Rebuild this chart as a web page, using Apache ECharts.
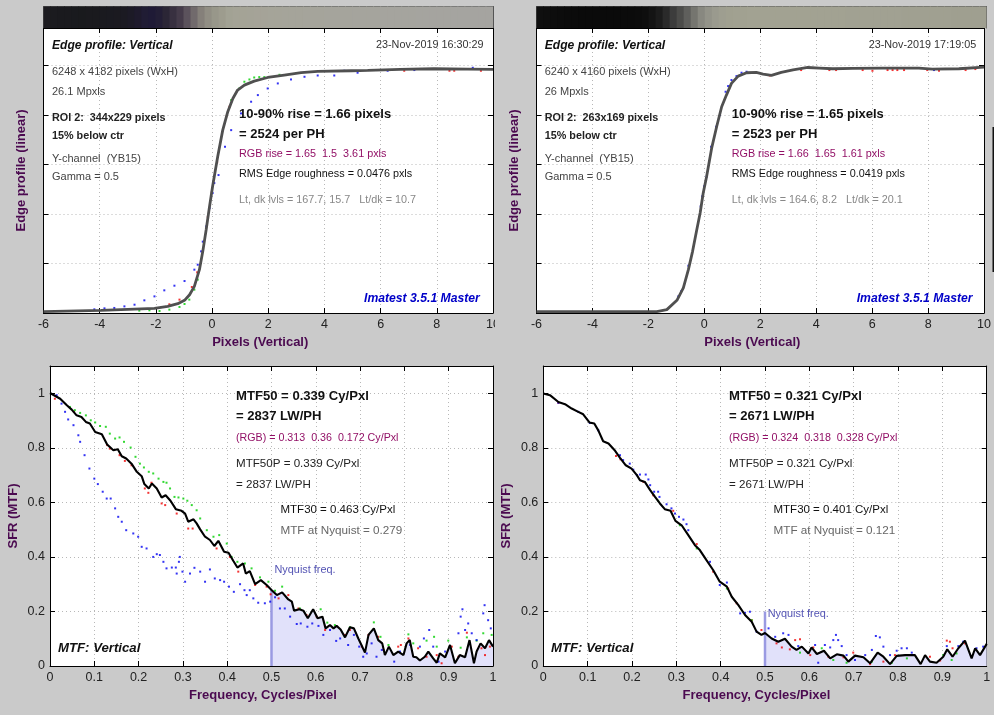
<!DOCTYPE html>
<html>
<head>
<meta charset="utf-8">
<title>Edge profile and MTF</title>
<script src="https://cdn.jsdelivr.net/npm/echarts@6/dist/echarts.min.js"></script>
<style>
html, body { margin: 0; padding: 0; background: #cacaca; }
#chart { width: 994px; height: 715px; }
</style>
</head>
<body>
<div id="chart"></div>
<script>
// edge profile, left camera: [pixels, level]
var edgeLeftY = [[-6,1.3],[-3.95,2.7],[-2.05,4.7],[-1.58,6.7],[-1.22,9.4],[-0.98,12.8],[-0.8,18.5],[-0.63,26.9],[-0.45,43.8],[-0.33,62.3],[-0.21,84.2],[-0.09,107.7],[0.02,128],[0.2,157.9],[0.38,184.8],[0.56,203.4],[0.74,216.8],[0.91,225.3],[1.15,230.3],[1.5,234.3],[1.98,238],[2.57,240.4],[3.17,242.8],[3.76,244.1],[4.95,244.8],[5.54,245.1],[6.7,246.1],[7.9,246.8],[9.1,246.5],[10,246.1]];
var edgeLeftB = [[-4.19,3.7],[-3.83,4.7],[-3.48,5.1],[-3.12,6.7],[-2.76,8.4],[-2.41,12.8],[-2.05,16.8],[-1.7,22.9],[-1.34,27.6],[-0.98,32.3],[-0.63,43.8],[-0.51,48.8],[-0.39,62.3],[-0.33,72.1],[-0.21,87.5],[-0.09,106],[0.02,121.2],[0.08,131.3],[0.23,139.4],[0.46,168],[0.68,184.8],[1.03,201.7],[1.39,213.5],[1.63,220.2],[1.98,226.9],[2.34,232],[2.81,236],[3.29,238.7],[3.76,240],[4.35,240],[4.71,244.8],[5.18,242.8],[6.25,244.8],[7.2,245.5],[9.28,247.8]];
var edgeLeftG = [[-2.59,2.4],[-2.23,2.7],[-1.87,2],[-1.52,3.4],[-1.16,6.1],[-0.98,9.1],[-0.81,13.5],[-0.63,23.6],[-0.51,33.7],[0.68,215.2],[0.97,226.9],[1.15,233.7],[1.33,236],[1.5,238],[1.68,238.4],[1.86,238.4],[2.04,238.4],[2.4,240.7]];
var edgeLeftR = [[-1.52,8.8],[-1.16,13.5],[-0.72,26.3],[-0.53,41.1],[-0.15,97],[-0.01,121.9],[0.18,152.2],[0.5,198.3],[0.62,208.4],[6.84,244.8],[8.45,244.8],[8.62,244.8],[9.57,244.8]];

// edge profile, right camera
var edgeRightY = [[-6,1.3],[-3.36,1.3],[-1.7,1.3],[-1.34,3.4],[-0.98,12.8],[-0.75,25.3],[-0.57,43.8],[-0.42,62.3],[-0.27,84.2],[-0.15,101],[-0.04,121.2],[0.08,137.7],[0.26,166.3],[0.44,188.2],[0.62,208.4],[0.79,220.2],[0.97,232],[1.21,239.4],[1.51,242.8],[1.86,243.1],[2.1,241.4],[2.4,240.1],[2.75,243.1],[3.17,245.8],[3.7,248.1],[4.12,247.5],[4.59,246.8],[5.3,247.1],[6.37,247.5],[7.67,247.5],[8.15,246.5],[9.1,246.8],[10,248.5]];
var edgeRightB = [[-0.93,16.8],[-0.83,21.9],[-0.57,47.8],[-0.13,107.7],[-0.08,117.8],[-0.01,128],[0.08,137.7],[0.24,168],[0.42,188.2],[0.56,200],[0.76,223.6],[0.85,229.3],[0.97,235.4],[1.15,239.4],[1.33,242.8],[1.51,243.8],[8.21,245.5]];
var edgeRightR = [[2.34,240],[3.46,245.5],[4.47,245.5],[4.71,245.5],[5.66,245.5],[6.01,244.8],[6.55,245.5],[6.73,245.5],[6.9,245.5],[7.14,245.5],[7.97,245.5],[8.39,244.8],[9.34,245.5],[9.69,246.5]];

// MTF, left camera: [cycles/pixel, SFR]
var mtfLeftY = [[0,1.001],[0.023,0.98],[0.038,0.956],[0.049,0.94],[0.06,0.919],[0.071,0.913],[0.081,0.895],[0.09,0.889],[0.102,0.858],[0.117,0.85],[0.129,0.812],[0.143,0.791],[0.153,0.795],[0.162,0.769],[0.172,0.761],[0.184,0.742],[0.196,0.712],[0.207,0.696],[0.213,0.667],[0.223,0.651],[0.23,0.669],[0.241,0.651],[0.252,0.618],[0.261,0.626],[0.272,0.606],[0.284,0.575],[0.297,0.569],[0.305,0.559],[0.312,0.529],[0.324,0.538],[0.331,0.523],[0.339,0.501],[0.35,0.474],[0.361,0.462],[0.371,0.44],[0.38,0.459],[0.393,0.419],[0.403,0.415],[0.414,0.385],[0.423,0.361],[0.436,0.376],[0.442,0.339],[0.451,0.348],[0.463,0.3],[0.476,0.315],[0.489,0.297],[0.5,0.279],[0.512,0.26],[0.524,0.27],[0.538,0.244],[0.546,0.236],[0.551,0.203],[0.563,0.208],[0.572,0.203],[0.582,0.175],[0.594,0.208],[0.604,0.175],[0.615,0.181],[0.622,0.138],[0.632,0.15],[0.64,0.138],[0.647,0.147],[0.656,0.134],[0.666,0.105],[0.677,0.142],[0.686,0.138],[0.696,0.101],[0.703,0.077],[0.711,0.049],[0.719,0.114],[0.731,0.138],[0.741,0.095],[0.75,0.083],[0.756,0.04],[0.765,0.071],[0.775,0.04],[0.786,0.053],[0.798,0.04],[0.805,0.083],[0.812,0.095],[0.82,0.034],[0.827,0.032],[0.835,0.02],[0.846,0.034],[0.854,0.053],[0.865,0.028],[0.873,0.012],[0.88,0.046],[0.892,0.032],[0.903,0.077],[0.914,0.01],[0.925,0.04],[0.937,0.032],[0.947,0.095],[0.957,0.01],[0.963,0.053],[0.972,0.083],[0.982,0.065],[0.991,0.095],[1,0.071]];
var mtfLeftB = [[0.015,0.993],[0.026,0.962],[0.034,0.932],[0.041,0.904],[0.053,0.883],[0.064,0.846],[0.068,0.822],[0.078,0.773],[0.089,0.724],[0.1,0.687],[0.108,0.667],[0.119,0.639],[0.128,0.614],[0.137,0.614],[0.147,0.578],[0.154,0.547],[0.162,0.529],[0.172,0.498],[0.188,0.486],[0.199,0.474],[0.207,0.437],[0.218,0.431],[0.233,0.4],[0.241,0.41],[0.248,0.407],[0.256,0.382],[0.263,0.358],[0.275,0.361],[0.284,0.361],[0.286,0.339],[0.291,0.382],[0.293,0.4],[0.299,0.346],[0.305,0.309],[0.316,0.339],[0.326,0.36],[0.339,0.346],[0.35,0.309],[0.361,0.354],[0.372,0.321],[0.384,0.315],[0.393,0.309],[0.404,0.291],[0.415,0.272],[0.429,0.3],[0.439,0.278],[0.451,0.278],[0.444,0.26],[0.459,0.248],[0.47,0.232],[0.485,0.23],[0.497,0.236],[0.508,0.252],[0.519,0.211],[0.53,0.211],[0.542,0.181],[0.557,0.154],[0.566,0.156],[0.581,0.144],[0.592,0.156],[0.606,0.147],[0.617,0.114],[0.632,0.132],[0.646,0.092],[0.655,0.101],[0.673,0.077],[0.686,0.114],[0.698,0.071],[0.707,0.034],[0.715,0.046],[0.726,0.083],[0.737,0.034],[0.749,0.059],[0.777,0.016],[0.79,0.053],[0.813,0.077],[0.835,0.071],[0.844,0.101],[0.856,0.132],[0.865,0.071],[0.877,0.016],[0.892,0.053],[0.903,0.071],[0.922,0.12],[0.927,0.181],[0.931,0.208],[0.937,0.132],[0.944,0.156],[0.952,0.12],[0.963,0.095],[0.978,0.193],[0.981,0.223],[0.989,0.168],[0.995,0.138]];
var mtfLeftG = [[0.045,0.95],[0.056,0.938],[0.068,0.928],[0.081,0.919],[0.092,0.901],[0.102,0.893],[0.113,0.88],[0.126,0.877],[0.135,0.852],[0.147,0.834],[0.157,0.838],[0.167,0.822],[0.182,0.801],[0.193,0.767],[0.203,0.742],[0.212,0.728],[0.223,0.712],[0.233,0.706],[0.245,0.687],[0.256,0.675],[0.263,0.672],[0.271,0.651],[0.281,0.62],[0.29,0.618],[0.301,0.614],[0.31,0.606],[0.32,0.59],[0.331,0.571],[0.339,0.541],[0.354,0.498],[0.369,0.474],[0.382,0.48],[0.399,0.449],[0.41,0.4],[0.423,0.382],[0.44,0.376],[0.455,0.358],[0.474,0.325],[0.493,0.309],[0.508,0.276],[0.524,0.291],[0.564,0.211],[0.611,0.208],[0.626,0.159],[0.643,0.15],[0.677,0.142],[0.731,0.16],[0.746,0.107],[0.764,0.077],[0.809,0.116],[0.82,0.083],[0.85,0.093],[0.867,0.107],[0.873,0.071],[0.899,0.093],[0.927,0.067],[0.941,0.105],[0.963,0.093],[0.978,0.12],[0.997,0.114]];
var mtfLeftR = [[0.011,0.98],[0.054,0.932],[0.129,0.81],[0.135,0.797],[0.157,0.773],[0.169,0.752],[0.184,0.736],[0.214,0.651],[0.222,0.635],[0.229,0.672],[0.252,0.596],[0.26,0.59],[0.286,0.559],[0.312,0.504],[0.322,0.504],[0.376,0.431],[0.406,0.4],[0.425,0.346],[0.463,0.297],[0.489,0.291],[0.498,0.263],[0.516,0.248],[0.538,0.26],[0.561,0.211],[0.579,0.187],[0.602,0.181],[0.621,0.132],[0.666,0.114],[0.677,0.132],[0.704,0.071],[0.719,0.114],[0.741,0.107],[0.753,0.059],[0.786,0.071],[0.792,0.077],[0.809,0.101],[0.831,0.065],[0.85,0.034],[0.873,0.04],[0.884,0.01],[0.907,0.071],[0.922,0.034],[0.941,0.122],[0.974,0.065],[0.982,0.04],[0.993,0.071]];
var nyquistLeft = [[0.5,0],[0.5,0.279]];

// MTF, right camera
var mtfRightY = [[0,0.999],[0.015,0.993],[0.034,0.968],[0.049,0.96],[0.064,0.944],[0.079,0.932],[0.09,0.923],[0.104,0.893],[0.115,0.889],[0.124,0.864],[0.135,0.824],[0.147,0.816],[0.162,0.789],[0.173,0.763],[0.186,0.736],[0.199,0.724],[0.211,0.7],[0.218,0.681],[0.229,0.675],[0.241,0.645],[0.252,0.62],[0.263,0.596],[0.274,0.575],[0.287,0.569],[0.298,0.532],[0.312,0.516],[0.327,0.48],[0.342,0.443],[0.353,0.425],[0.368,0.388],[0.383,0.352],[0.398,0.309],[0.414,0.291],[0.425,0.254],[0.44,0.223],[0.455,0.187],[0.47,0.162],[0.481,0.126],[0.492,0.114],[0.5,0.121],[0.515,0.101],[0.53,0.089],[0.545,0.1],[0.56,0.071],[0.571,0.059],[0.583,0.071],[0.598,0.046],[0.605,0.068],[0.617,0.044],[0.633,0.056],[0.647,0.028],[0.662,0.043],[0.677,0.038],[0.688,0.016],[0.703,0.038],[0.722,0.032],[0.737,0.01],[0.754,0.049],[0.767,0.034],[0.782,0.007],[0.797,0.037],[0.816,0.04],[0.838,0.04],[0.851,0.007],[0.861,0.04],[0.872,0.016],[0.887,0.012],[0.902,0.034],[0.911,0.061],[0.923,0.034],[0.936,0.065],[0.951,0.093],[0.966,0.028],[0.974,0.065],[0.985,0.04],[1,0.081]];
var mtfRightB = [[0.034,0.965],[0.079,0.932],[0.105,0.891],[0.124,0.864],[0.173,0.773],[0.18,0.755],[0.195,0.742],[0.203,0.72],[0.211,0.7],[0.218,0.702],[0.231,0.702],[0.237,0.684],[0.241,0.663],[0.25,0.639],[0.259,0.639],[0.262,0.62],[0.278,0.593],[0.289,0.578],[0.297,0.559],[0.306,0.547],[0.316,0.537],[0.323,0.52],[0.327,0.498],[0.376,0.382],[0.398,0.297],[0.414,0.306],[0.444,0.193],[0.455,0.195],[0.466,0.199],[0.481,0.126],[0.508,0.138],[0.523,0.107],[0.541,0.12],[0.553,0.114],[0.575,0.073],[0.613,0.077],[0.62,0.012],[0.635,0.077],[0.647,0.068],[0.654,0.095],[0.66,0.114],[0.665,0.095],[0.673,0.073],[0.684,0.04],[0.703,0.022],[0.726,0.04],[0.741,0.059],[0.75,0.11],[0.759,0.105],[0.767,0.071],[0.782,0.04],[0.797,0.056],[0.808,0.065],[0.82,0.065],[0.831,0.049],[0.91,0.073],[0.936,0.073],[0.947,0.089],[0.977,0.065],[0.992,0.071]];
var mtfRightR = [[0.034,0.965],[0.164,0.77],[0.174,0.758],[0.226,0.675],[0.248,0.626],[0.293,0.569],[0.346,0.447],[0.383,0.346],[0.417,0.284],[0.436,0.23],[0.47,0.168],[0.492,0.132],[0.526,0.083],[0.538,0.068],[0.556,0.061],[0.568,0.095],[0.579,0.098],[0.602,0.04],[0.609,0.068],[0.643,0.034],[0.677,0.032],[0.699,0.049],[0.737,0.007],[0.767,0.016],[0.793,0.04],[0.872,0.034],[0.895,0.02],[0.91,0.093],[0.917,0.089],[0.923,0.065],[0.951,0.083]];
var mtfRightG = [[0.259,0.606],[0.308,0.516],[0.346,0.431],[0.414,0.284],[0.47,0.168],[0.579,0.049],[0.628,0.065],[0.654,0.022],[0.684,0.012],[0.741,0.016],[0.786,0.012],[0.82,0.028],[0.902,0.04],[0.921,0.022],[0.932,0.046]];
var nyquistRight = [[0.5,0],[0.5,0.2]];

// gray patches along the top of the edge plots
var stripLeft = ['#1c1b20','#1b1b1f','#1a1a1e','#1a1a1e','#191a1e','#191a1d','#1a1a1e','#1a1a1e','#1a1a1f','#1a1a20','#1b1a20','#1b1a22','#1c1a26','#1e1a2c','#201c34','#1f1a36','#231e36','#2b2636','#383040','#453b4a','#5b525c','#716a6c','#85807a','#918e84','#98978a','#9d9c8e','#a2a294','#a4a396','#a4a396','#a4a397','#a5a398','#a5a398','#a5a499','#a5a499','#a5a49a','#a5a49a','#a5a49a','#a5a49b','#a5a49b','#a5a49b','#a5a49c','#a5a49c','#a5a49c','#a5a49c','#a5a49d','#a5a49d','#a5a49d','#a5a49d','#a5a49e','#a5a49e','#a5a49e','#a5a49e','#a5a49e','#a5a49f','#a5a49f','#a5a49f','#a5a49f','#a5a49f','#a5a4a0','#a5a4a0','#a5a4a0','#a5a4a0','#a5a4a0','#a5a4a0'];
var stripRight = ['#0f0f0f','#0e0e0e','#0d0d0d','#0c0c0c','#0b0b0b','#0b0b0b','#0a0a0a','#0a0a0a','#0a0a0a','#0a0a0a','#0a0a0a','#0a0a0a','#0b0b0b','#0b0b0b','#0c0c0c','#0e0e0e','#141414','#1c1c1c','#2a2a2a','#3c3c3c','#4c4c4a','#5f5f5c','#75756f','#888880','#939389','#9a9a8e','#9e9e90','#a0a090','#a1a191','#a1a191','#a2a292','#a2a292','#a2a292','#a2a292','#a2a292','#a2a292','#a2a292','#a2a292','#a2a292','#a2a292','#a2a292','#a2a292','#a2a292','#a2a292','#a1a192','#a1a192','#a1a192','#a1a192','#a1a192','#a1a192','#a1a192','#a1a192','#a0a091','#a0a091','#a0a091','#a0a091','#a0a091','#a0a091','#a0a091','#9f9f90','#9f9f90','#9f9f90','#9f9f90','#9f9f90'];

var edgeXTicks = { min: -6, max: 10, interval: 2 };
var edgeYTicks = { min: 0, max: 288, interval: 50 };
var mtfXTicks = { min: 0, max: 1, interval: 0.1 };
var mtfYTicks = { min: 0, max: 1.1, interval: 0.2 };

var font = '"Liberation Sans", Arial, sans-serif';
var purple = '#4b0a50';
var magenta = '#921066';

var chart = echarts.init(document.getElementById('chart'));

var grids = [], xAxes = [], yAxes = [], series = [], texts = [];

function dots(x, y, data, color) {
    series.push({ type: 'scatter', xAxisIndex: x, yAxisIndex: y, data: data, symbol: 'rect', symbolSize: 2, silent: true, z: 2, itemStyle: { color: color } });
}

// one plot with its frame: main x and y axes plus tickmark-only axes on top and right
function addPlot(box, xt, yt, xName, yName, yGap, xShift, showY) {
    var g = grids.length;
    grids.push({ left: box[0], top: box[1], width: box[2], height: box[3], show: true, backgroundColor: '#fff', borderWidth: 0 });
    var line = { show: true, onZero: false, lineStyle: { color: '#000', width: 1 } };
    var tick = { show: true, inside: true, length: 5, lineStyle: { color: '#000', width: 1 } };
    var grid = { show: true, lineStyle: { color: '#b8b8b8', width: 1, type: [1, 3] } };
    var x = xAxes.length;
    xAxes.push({
        type: 'value', gridIndex: g, min: xt.min, max: xt.max, interval: xt.interval, position: 'bottom',
        axisLine: line, axisTick: tick, splitLine: grid,
        axisLabel: { fontFamily: font, fontSize: 12.5, color: '#222', margin: 5, hideOverlap: false },
        name: xName, nameLocation: 'center', nameGap: 23,
        nameTextStyle: { fontFamily: font, fontSize: 13, fontWeight: 'bold', color: purple, padding: [0, xShift, 0, 0] }
    });
    xAxes.push({
        type: 'value', gridIndex: g, min: xt.min, max: xt.max, interval: xt.interval, position: 'top',
        axisLine: line, axisTick: tick, splitLine: { show: false }, axisLabel: { show: false }
    });
    var y = yAxes.length;
    yAxes.push({
        type: 'value', gridIndex: g, min: yt.min, max: yt.max, interval: yt.interval, position: 'left',
        axisLine: line, axisTick: tick, splitLine: grid,
        axisLabel: { show: showY, showMaxLabel: false, fontFamily: font, fontSize: 12.5, color: '#222', margin: 5 },
        name: yName, nameLocation: 'center', nameGap: yGap,
        nameTextStyle: { fontFamily: font, fontSize: 13, fontWeight: 'bold', color: purple }
    });
    yAxes.push({
        type: 'value', gridIndex: g, min: yt.min, max: yt.max, interval: yt.interval, position: 'right',
        axisLine: line, axisTick: tick, splitLine: { show: false }, axisLabel: { show: false }
    });
    return { x: x, y: y };
}

function addStrip(box, colors) {
    var g = grids.length;
    grids.push({ left: box[0], top: box[1], width: box[2], height: box[3] });
    var x = xAxes.length, y = yAxes.length;
    var border = { show: true, onZero: false, lineStyle: { color: '#555', width: 1 } };
    xAxes.push({ type: 'category', gridIndex: g, position: 'top', data: colors.map(function (c, i) { return i; }), axisLine: border, axisTick: { show: false }, axisLabel: { show: false }, splitLine: { show: false } });
    yAxes.push({ type: 'value', gridIndex: g, min: 0, max: 1, position: 'left', axisLine: border, axisTick: { show: false }, axisLabel: { show: false }, splitLine: { show: false } });
    yAxes.push({ type: 'value', gridIndex: g, min: 0, max: 1, position: 'right', axisLine: border, axisTick: { show: false }, axisLabel: { show: false }, splitLine: { show: false } });
    series.push({
        type: 'bar', xAxisIndex: x, yAxisIndex: y, barWidth: 8, silent: true, animation: false, clip: true,
        data: colors.map(function (c) { return { value: 1, itemStyle: { color: c } }; })
    });
}

function label(x, y, str, color, size, weight, style) {
    texts.push({
        type: 'text', x: x, y: y, z: 100, silent: true,
        style: { text: str, fill: color, font: (style || 'normal') + ' ' + (weight || 'normal') + ' ' + size + 'px ' + font, textVerticalAlign: 'middle' }
    });
}

function edgePanel(box, stripBox, colors, main, blue, green, red, dx, info) {
    var a = addPlot(box, edgeXTicks, edgeYTicks, 'Pixels (Vertical)', 'Edge profile (linear)', 16, 16, false);
    addStrip(stripBox, colors);
    dots(a.x, a.y, red, '#f00000');
    dots(a.x, a.y, green, '#00d000');
    dots(a.x, a.y, blue, '#0000f0');
    series.push({ type: 'line', xAxisIndex: a.x, yAxisIndex: a.y, data: main, showSymbol: false, silent: true, z: 3, lineStyle: { color: '#505050', width: 2.8 } });
    label(52 + dx, 45.5, 'Edge profile: Vertical', '#111', 12.1, 'bold', 'italic');
    label(376 + dx, 45, info.date, '#333', 10.8);
    label(52 + dx, 72, info.size, '#444', 11);
    label(52 + dx, 92, info.mpxl, '#444', 11);
    label(52 + dx, 118, info.roi, '#222', 10.8, 'bold');
    label(52 + dx, 136, '15% below ctr', '#222', 10.8, 'bold');
    label(52 + dx, 159, 'Y-channel  (YB15)', '#444', 11);
    label(52 + dx, 177, 'Gamma = 0.5', '#444', 11);
    label(239 + dx, 114.5, info.rise, '#111', 13, 'bold');
    label(239 + dx, 134.5, info.per, '#111', 13, 'bold');
    label(239 + dx, 154, info.rgb, magenta, 10.8);
    label(239 + dx, 174, info.rms, '#111', 10.8);
    label(239 + dx, 200, info.lt, '#888', 10.8);
    label(364 + dx, 298.5, 'Imatest 3.5.1 Master', '#0000c8', 12.2, 'bold', 'italic');
}

function mtfPanel(box, main, blue, green, red, nyquist, dx, info) {
    var a = addPlot(box, mtfXTicks, mtfYTicks, 'Frequency, Cycles/Pixel', 'SFR (MTF)', 30, 17, true);
    series.push({
        type: 'line', xAxisIndex: a.x, yAxisIndex: a.y, silent: true, showSymbol: false, z: 1,
        data: main.filter(function (p) { return p[0] >= 0.5; }),
        lineStyle: { width: 0 }, areaStyle: { color: '#e1e1fa', opacity: 1 }
    });
    series.push({ type: 'line', xAxisIndex: a.x, yAxisIndex: a.y, data: nyquist, showSymbol: false, silent: true, z: 1, lineStyle: { color: '#9a9ae2', width: 2.5 } });
    dots(a.x, a.y, red, '#f00000');
    dots(a.x, a.y, green, '#00d000');
    dots(a.x, a.y, blue, '#0000f0');
    series.push({ type: 'line', xAxisIndex: a.x, yAxisIndex: a.y, data: main, showSymbol: false, silent: true, z: 3, lineStyle: { color: '#000', width: 2.1 } });
    label(236 + dx, 396, info.mtf50, '#111', 13.1, 'bold');
    label(236 + dx, 416.7, info.lw, '#111', 13.1, 'bold');
    label(236 + dx, 438, info.rgb, magenta, 10.7);
    label(236 + dx, 463.5, info.mtf50p, '#222', 11.6);
    label(236 + dx, 485, info.lwp, '#222', 11.6);
    label(280.5 + dx, 510, info.mtf30, '#111', 11.5);
    label(280.5 + dx, 530.7, info.nyq, '#666', 11.7);
    label(58 + dx, 648, 'MTF: Vertical', '#111', 13.2, 'bold', 'italic');
    label(info.nqX, info.nqY, 'Nyquist freq.', '#5454b4', 10.9);
}

edgePanel([43.5, 28, 449.5, 285], [43.5, 6.5, 449.5, 21.5], stripLeft, edgeLeftY, edgeLeftB, edgeLeftG, edgeLeftR, 0, {
    date: '23-Nov-2019 16:30:29', size: '6248 x 4182 pixels (WxH)', mpxl: '26.1 Mpxls', roi: 'ROI 2:  344x229 pixels',
    rise: '10-90% rise = 1.66 pixels', per: '= 2524 per PH', rgb: 'RGB rise = 1.65  1.5  3.61 pxls',
    rms: 'RMS Edge roughness = 0.0476 pxls', lt: 'Lt, dk lvls = 167.7, 15.7   Lt/dk = 10.7'
});
edgePanel([536.5, 28, 450, 285], [536.5, 6.5, 450, 21.5], stripRight, edgeRightY, edgeRightB, [], edgeRightR, 492.7, {
    date: '23-Nov-2019 17:19:05', size: '6240 x 4160 pixels (WxH)', mpxl: '26 Mpxls', roi: 'ROI 2:  263x169 pixels',
    rise: '10-90% rise = 1.65 pixels', per: '= 2523 per PH', rgb: 'RGB rise = 1.66  1.65  1.61 pxls',
    rms: 'RMS Edge roughness = 0.0419 pxls', lt: 'Lt, dk lvls = 164.6, 8.2   Lt/dk = 20.1'
});
mtfPanel([50, 366, 443, 300], mtfLeftY, mtfLeftB, mtfLeftG, mtfLeftR, nyquistLeft, 0, {
    mtf50: 'MTF50 = 0.339 Cy/Pxl', lw: '= 2837 LW/PH', rgb: '(RGB) = 0.313  0.36  0.172 Cy/Pxl',
    mtf50p: 'MTF50P = 0.339 Cy/Pxl', lwp: '= 2837 LW/PH', mtf30: 'MTF30 = 0.463 Cy/Pxl', nyq: 'MTF at Nyquist = 0.279',
    nqX: 274.5, nqY: 570
});
mtfPanel([543.3, 366, 443.4, 300], mtfRightY, mtfRightB, mtfRightG, mtfRightR, nyquistRight, 493, {
    mtf50: 'MTF50 = 0.321 Cy/Pxl', lw: '= 2671 LW/PH', rgb: '(RGB) = 0.324  0.318  0.328 Cy/Pxl',
    mtf50p: 'MTF50P = 0.321 Cy/Pxl', lwp: '= 2671 LW/PH', mtf30: 'MTF30 = 0.401 Cy/Pxl', nyq: 'MTF at Nyquist = 0.121',
    nqX: 767.7, nqY: 614
});

// leftovers of the screenshot: clipped "10" on the left panel and the bar on the right edge
texts.push({ type: 'rect', z: 100, silent: true, shape: { x: 495, y: 316, width: 6, height: 18 }, style: { fill: '#cacaca' } });
texts.push({ type: 'rect', z: 100, silent: true, shape: { x: 992.5, y: 127, width: 1.5, height: 145 }, style: { fill: '#111' } });

chart.setOption({
    backgroundColor: '#cacaca',
    animation: false,
    grid: grids,
    xAxis: xAxes,
    yAxis: yAxes,
    series: series,
    graphic: texts
});
</script>
</body>
</html>
